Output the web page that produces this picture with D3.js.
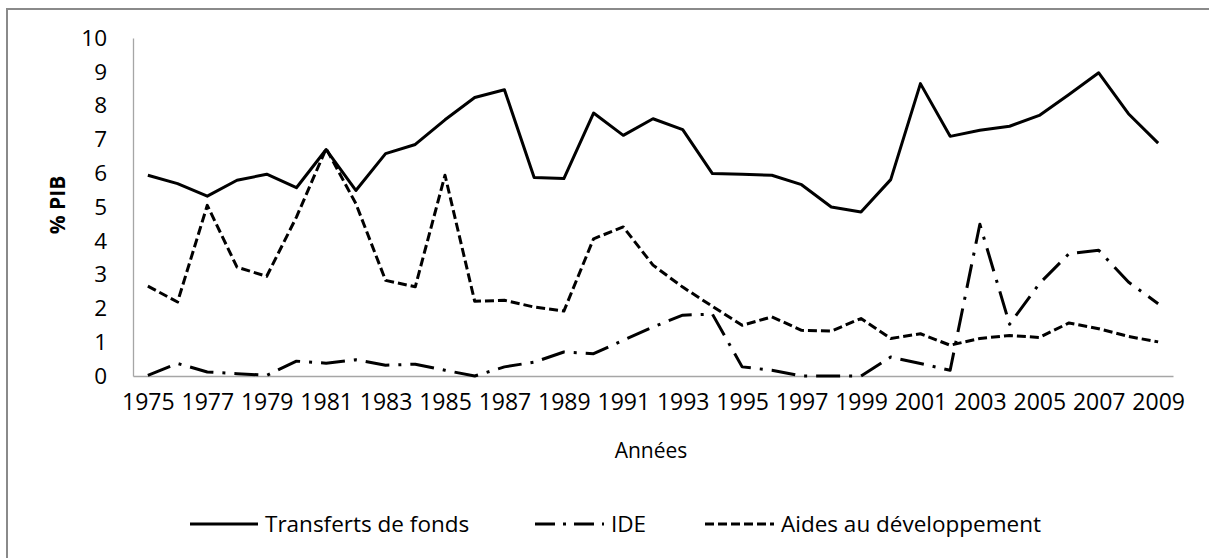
<!DOCTYPE html>
<html>
<head>
<meta charset="utf-8">
<script src="https://cdn.jsdelivr.net/npm/d3@7"></script>
<style>
  html, body { margin: 0; padding: 0; background: #ffffff; }
  svg { display: block; }
  text { font-family: "Open Sans", "Noto Sans", sans-serif; fill: #000; }
</style>
</head>
<body>
<svg id="chart" width="1209" height="558"></svg>
<script>
const years = [1975,1976,1977,1978,1979,1980,1981,1982,1983,1984,1985,1986,1987,1988,1989,1990,1991,1992,1993,1994,1995,1996,1997,1998,1999,2000,2001,2002,2003,2004,2005,2006,2007,2008,2009];
const xTickLabels = [1975,1977,1979,1981,1983,1985,1987,1989,1991,1993,1995,1997,1999,2001,2003,2005,2007,2009];
const yTickLabels = [0,1,2,3,4,5,6,7,8,9,10];
const transferts = [5.94,5.69,5.32,5.79,5.97,5.57,6.70,5.49,6.58,6.85,7.58,8.24,8.47,5.87,5.84,7.78,7.12,7.61,7.29,5.99,5.97,5.94,5.66,5.00,4.85,5.81,8.65,7.09,7.27,7.39,7.71,8.33,8.97,7.76,6.89];
const ide = [0.02,0.37,0.12,0.07,0.02,0.44,0.38,0.48,0.32,0.35,0.17,0.00,0.27,0.41,0.71,0.66,1.06,1.45,1.80,1.83,0.27,0.17,0.00,0.00,0.00,0.56,0.37,0.17,4.49,1.53,2.73,3.62,3.72,2.78,2.14];
const aides = [2.66,2.19,5.05,3.22,2.95,4.70,6.73,5.10,2.83,2.64,5.94,2.21,2.24,2.04,1.92,4.06,4.41,3.28,2.63,2.06,1.50,1.75,1.35,1.33,1.70,1.11,1.25,0.91,1.11,1.20,1.14,1.57,1.40,1.17,1.01];
const seriesNames = ["Transferts de fonds", "IDE", "Aides au développement"];
const yTitle = "% PIB";
const xTitle = "Années";

const svg = d3.select("#chart");
const plotLeft = 133, plotRight = 1173, plotTop = 38, plotBottom = 376;

// outer frame
svg.append("rect").attr("x", 7).attr("y", 9).attr("width", 1215).attr("height", 565)
  .attr("fill", "#fff").attr("stroke", "#8a8a8a").attr("stroke-width", 2);

const x = d3.scalePoint().domain(years).range([plotLeft, plotRight]).padding(0.5);
const y = d3.scaleLinear().domain([0, 10]).range([plotBottom, plotTop]);

// y axis
const yAxis = svg.append("g").attr("transform", `translate(${plotLeft},0)`)
  .call(d3.axisLeft(y).tickValues(yTickLabels).tickSizeInner(0).tickSizeOuter(0).tickPadding(26).tickFormat(d3.format("d")));
yAxis.select(".domain").attr("stroke", "#a6a6a6").attr("stroke-width", 1.3);
yAxis.selectAll("text").style("font-size", "22.5px").style("font-family", "'Open Sans', sans-serif").attr("fill", "#000");

// x axis
const xAxis = svg.append("g").attr("transform", `translate(0,${plotBottom})`)
  .call(d3.axisBottom(x).tickValues(xTickLabels).tickSizeInner(0).tickSizeOuter(0).tickPadding(18).tickFormat(d3.format("d")));
xAxis.select(".domain").attr("stroke", "#a6a6a6").attr("stroke-width", 1.3);
xAxis.selectAll("text").style("font-size", "23px").style("font-family", "'Open Sans', sans-serif").attr("fill", "#000");

// axis titles
svg.append("text").attr("transform", "translate(65,205) rotate(-90)")
  .attr("text-anchor", "middle").style("font-size", "21px").style("font-weight", "bold").text(yTitle);
svg.append("text").attr("x", 651).attr("y", 458)
  .attr("text-anchor", "middle").style("font-size", "21px").text(xTitle);

const styles = [
  { data: transferts, dash: null },
  { data: ide, dash: "24,9,3,9" },
  { data: aides, dash: "9,4" }
];

const line = d3.line().x((d, i) => x(years[i])).y(d => y(d));

[2, 1, 0].forEach(k => {
  const s = styles[k];
  svg.append("path").datum(s.data).attr("d", line)
    .attr("fill", "none").attr("stroke", "#000").attr("stroke-width", 3)
    .attr("stroke-linejoin", "round")
    .attr("stroke-dasharray", s.dash);
});

// legend
const legendY = 524;
const legendItems = [
  { x0: 190, x1: 258, tx: 265, dash: null },
  { x0: 535, x1: 604, tx: 611, dash: "20,8,3,8" },
  { x0: 705, x1: 774, tx: 781, dash: "9,4" }
];
legendItems.forEach((it, i) => {
  svg.append("line").attr("x1", it.x0).attr("x2", it.x1).attr("y1", legendY).attr("y2", legendY)
    .attr("stroke", "#000").attr("stroke-width", 3).attr("stroke-dasharray", it.dash);
  svg.append("text").attr("x", it.tx).attr("y", legendY).attr("dy", "0.35em")
    .style("font-size", "22.5px").text(seriesNames[i]);
});
</script>
</body>
</html>
